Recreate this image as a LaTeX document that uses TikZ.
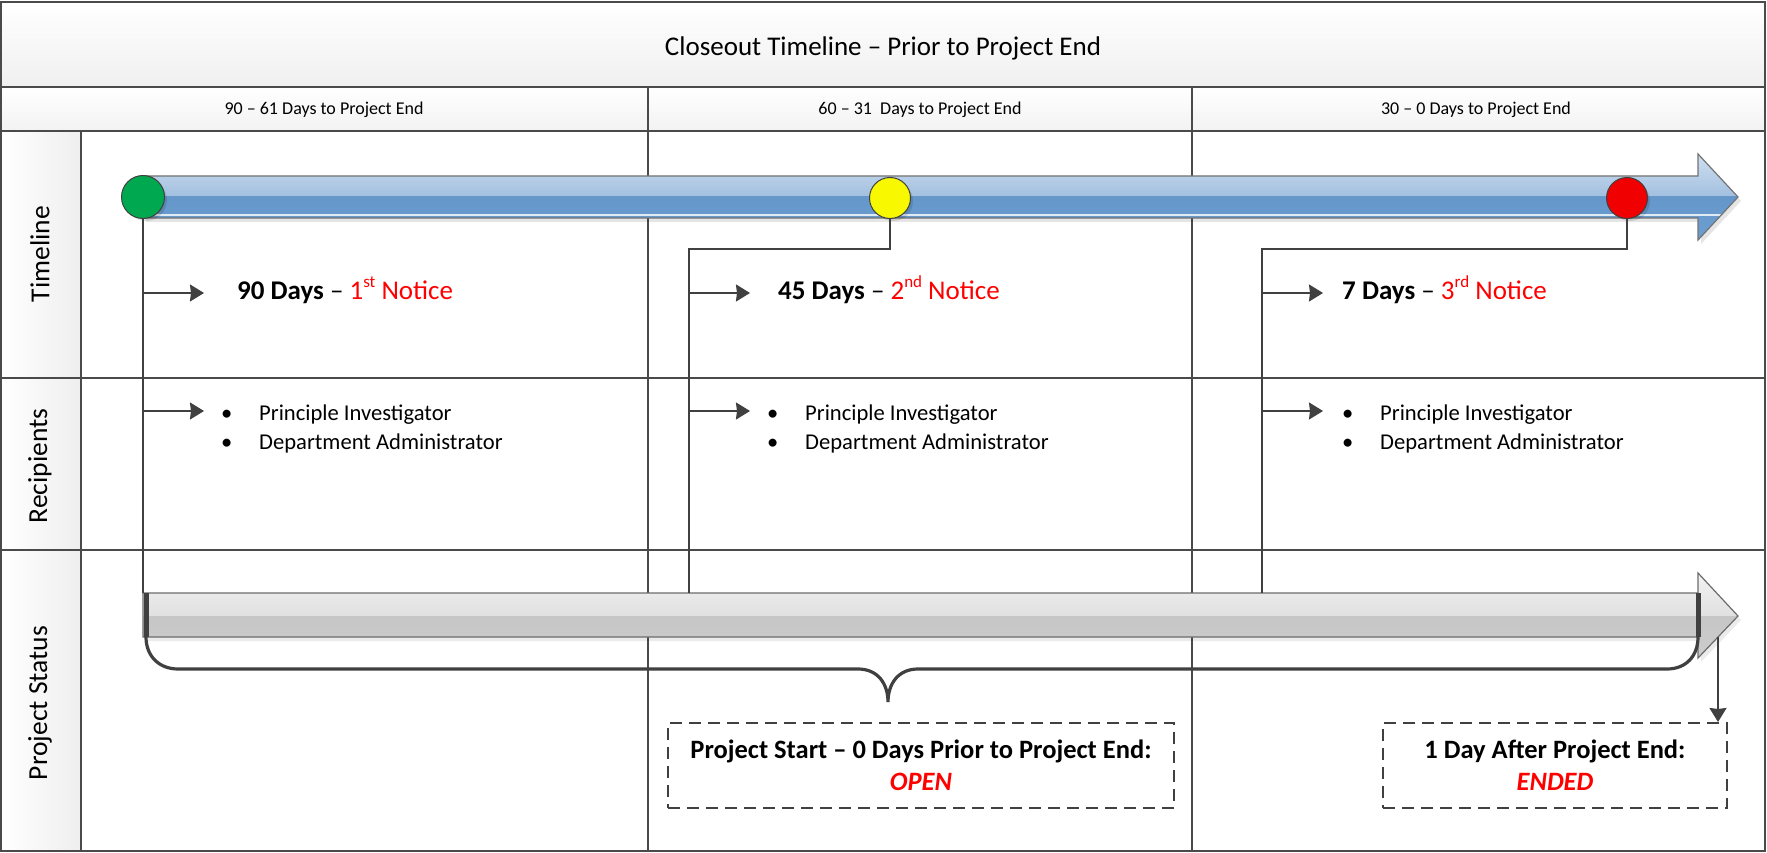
\documentclass[tikz,border=0pt]{standalone}
\usepackage{fontspec}
\setmainfont{Carlito}
\usetikzlibrary{arrows.meta}
\definecolor{gridc}{HTML}{4A4A4A}
\definecolor{lnc}{HTML}{404040}
\definecolor{bA}{HTML}{D3E3F2}
\definecolor{bB}{HTML}{A2BFDF}
\definecolor{bC}{HTML}{6597CB}
\definecolor{bD}{HTML}{6E9FD2}
\definecolor{gA}{HTML}{F4F4F4}
\definecolor{gB}{HTML}{E0E0E0}
\definecolor{gC}{HTML}{C6C6C6}
\definecolor{gD}{HTML}{CDCDCD}
\definecolor{grn}{HTML}{00A84F}
\definecolor{ylw}{HTML}{F8F800}
\definecolor{rd}{HTML}{F00000}
\definecolor{tred}{HTML}{FF0000}
\newcommand\fTitle{\fontsize{27}{32}\selectfont}
\newcommand\fHead{\fontsize{18}{22}\selectfont}
\newcommand\fLab{\fontsize{27.5}{32}\selectfont}
\newcommand\fNote{\fontsize{27}{32}\selectfont}
\newcommand\fList{\fontsize{22.6}{26}\selectfont}
\newcommand\fBox{\fontsize{26.5}{33}\selectfont}
\newcommand\supx[1]{\raisebox{0.42em}{\fontsize{17}{17}\selectfont #1}}
\tikzset{
  gridline/.style={draw=gridc, line width=1.6pt},
  conn/.style={draw=lnc, line width=2pt},
  arr/.style={conn, -{Stealth[length=14pt,width=17pt,inset=1pt]}},
  dashbox/.style={draw=lnc, line width=2pt, dash pattern=on 12pt off 7pt, inner sep=0pt, align=center, font=\fBox},
  dot/.style={circle, draw=lnc, line width=1pt, inner sep=0pt, minimum size=41pt},
  txt/.style={inner sep=0pt},
  brk/.style={draw=lnc, line width=3.2pt},
}
\begin{document}
\begin{tikzpicture}[x=1pt,y=-1pt]
\useasboundingbox (0,0) rectangle (1767,853);
\fill[white] (0,0) rectangle (1767,853);
% bands
\shade[top color=white, bottom color=gray!12] (1,2) rectangle (1765,87);
\shade[top color=white, bottom color=gray!10] (1,87) rectangle (1765,131);
\shade[left color=white, right color=gray!13] (1,131) rectangle (81,851);
% grid
\draw[gridline] (1,2) rectangle (1765,851);
\draw[gridline] (1,87) -- (1765,87);
\draw[gridline] (1,131) -- (1765,131);
\draw[gridline] (1,378) -- (1765,378);
\draw[gridline] (1,550) -- (1765,550);
\draw[gridline] (81,131) -- (81,851);
\draw[gridline] (648,87) -- (648,851);
\draw[gridline] (1192,87) -- (1192,851);
% titles
\node[txt,anchor=base] (title) at (883,56) {\fTitle Closeout Timeline – Prior to Project End};
\node[txt,anchor=base] (h1) at (324,115) {\fHead 90 – 61 Days to Project End};
\node[txt,anchor=base] (h2) at (920,115) {\fHead 60 – 31\ \ Days to Project End};
\node[txt,anchor=base] (h3) at (1476,115) {\fHead 30 – 0 Days to Project End};
\node[txt,rotate=90] (l1) at (40,254) {\fLab Timeline};
\node[txt,rotate=90] (l2) at (40,466) {\fLab Recipients};
\node[txt,rotate=90] (l3) at (40,703) {\fLab Project Status};
% blue arrow shadow
\fill[black,opacity=.10] (146,180) -- (1701,180) -- (1701,158) -- (1741,201) -- (1701,244) -- (1701,222) -- (146,222) -- cycle;
\begin{scope}
\clip (143,176) -- (1698,176) -- (1698,154) -- (1738,197) -- (1698,240) -- (1698,218) -- (143,218) -- cycle;
\shade[top color=bA, bottom color=bB] (130,150) rectangle (1745,197);
\shade[top color=bC, bottom color=bD] (130,197) rectangle (1745,245);
\draw[white!80!bC, line width=1.2pt] (130,215) -- (1745,215);
\end{scope}
\draw[draw=gray!90!black, line width=1.2pt] (143,176) -- (1698,176) -- (1698,154) -- (1738,197) -- (1698,240) -- (1698,218) -- (143,218) -- cycle;
% gray arrow
\fill[black,opacity=.08] (146,597) -- (1701,597) -- (1701,577) -- (1741,620) -- (1701,662) -- (1701,641) -- (146,641) -- cycle;
\begin{scope}
\clip (143,593) -- (1698,593) -- (1698,573) -- (1738,616) -- (1698,658) -- (1698,637) -- (143,637) -- cycle;
\shade[top color=gA, bottom color=gB] (130,570) rectangle (1745,616);
\shade[top color=gC, bottom color=gD] (130,616) rectangle (1745,662);
\end{scope}
\draw[draw=gray!85!black, line width=1.2pt] (143,593) -- (1698,593) -- (1698,573) -- (1738,616) -- (1698,658) -- (1698,637) -- (143,637) -- cycle;
% circles
\fill[black,opacity=.12] (146,200) circle (21);
\fill[black,opacity=.12] (893,201) circle (20);
\fill[black,opacity=.12] (1630,201) circle (20);
\node[dot, fill=grn, minimum size=43pt] (cg) at (143,197) {};
\node[dot, fill=ylw] (cy) at (890,198) {};
\node[dot, fill=rd] (cr) at (1627,198) {};
% connector anchor coordinates
\coordinate (t1) at (143,593);
\coordinate (k2) at (890,249);
\coordinate (j2) at (689,249);
\coordinate (t2) at (689,593);
\coordinate (k3) at (1627,249);
\coordinate (j3) at (1262,249);
\coordinate (t3) at (1262,593);
\draw[conn] (cg.south) -- (t1);
\draw[conn] (cy.south) -- (k2) -- (j2) -- (t2);
\draw[conn] (cr.south) -- (k3) -- (j3) -- (t3);
\coordinate (a1) at (143,293);
\coordinate (a2) at (689,293);
\coordinate (a3) at (1262,293);
\coordinate (r1) at (143,411);
\coordinate (r2) at (689,411);
\coordinate (r3) at (1262,411);
\draw[arr] (a1) -- ++(61,0);
\draw[arr] (a2) -- ++(61,0);
\draw[arr] (a3) -- ++(61,0);
\draw[arr] (r1) -- ++(61,0);
\draw[arr] (r2) -- ++(61,0);
\draw[arr] (r3) -- ++(61,0);
% notices
\node[txt,anchor=base west] (n1) at (237,299) {\fNote\textbf{90 Days} – \textcolor{tred}{1\supx{st} Notice}};
\node[txt,anchor=base west] (n2) at (778,299) {\fNote\textbf{45 Days} – \textcolor{tred}{2\supx{nd} Notice}};
\node[txt,anchor=base west] (n3) at (1342,299) {\fNote\textbf{7 Days} – \textcolor{tred}{3\supx{rd} Notice}};
% recipients
\node[txt,anchor=base west] (p1a) at (221,420) {\fList\makebox[38pt][l]{\textbullet}Principle Investigator};
\node[txt,anchor=base west] (p1b) at (221,449) {\fList\makebox[38pt][l]{\textbullet}Department Administrator};
\node[txt,anchor=base west] (p2a) at (767,420) {\fList\makebox[38pt][l]{\textbullet}Principle Investigator};
\node[txt,anchor=base west] (p2b) at (767,449) {\fList\makebox[38pt][l]{\textbullet}Department Administrator};
\node[txt,anchor=base west] (p3a) at (1342,420) {\fList\makebox[38pt][l]{\textbullet}Principle Investigator};
\node[txt,anchor=base west] (p3b) at (1342,449) {\fList\makebox[38pt][l]{\textbullet}Department Administrator};
% bracket and brace
\draw[brk] (146,593) -- (146,637) .. controls (146,656) and (159,669) .. (178,669) -- (858,669)
  .. controls (878,669) and (888,684) .. (888,702)
  .. controls (888,684) and (898,669) .. (918,669) -- (1667,669)
  .. controls (1686,669) and (1698,656) .. (1698,637) -- (1698,593);
\draw[lnc, line width=5pt] (146,593) -- (146,637);
\draw[lnc, line width=5pt] (1698,593) -- (1698,637);
% boxes
\node[dashbox, minimum width=506pt, minimum height=85pt] (b1) at (921,765.5)
  {\textbf{Project Start – 0 Days Prior to Project End:}\\[-1pt] \textcolor{tred}{\textbf{\textit{OPEN}}}};
\node[dashbox, minimum width=344pt, minimum height=85pt] (b2) at (1555,765.5)
  {\textbf{1 Day After Project End:}\\[-1pt] \textcolor{tred}{\textbf{\textit{ENDED}}}};
\coordinate (d1) at (1718,637);
\draw[arr] (d1) -- (d1 |- b2.north);
\end{tikzpicture}
\end{document}
